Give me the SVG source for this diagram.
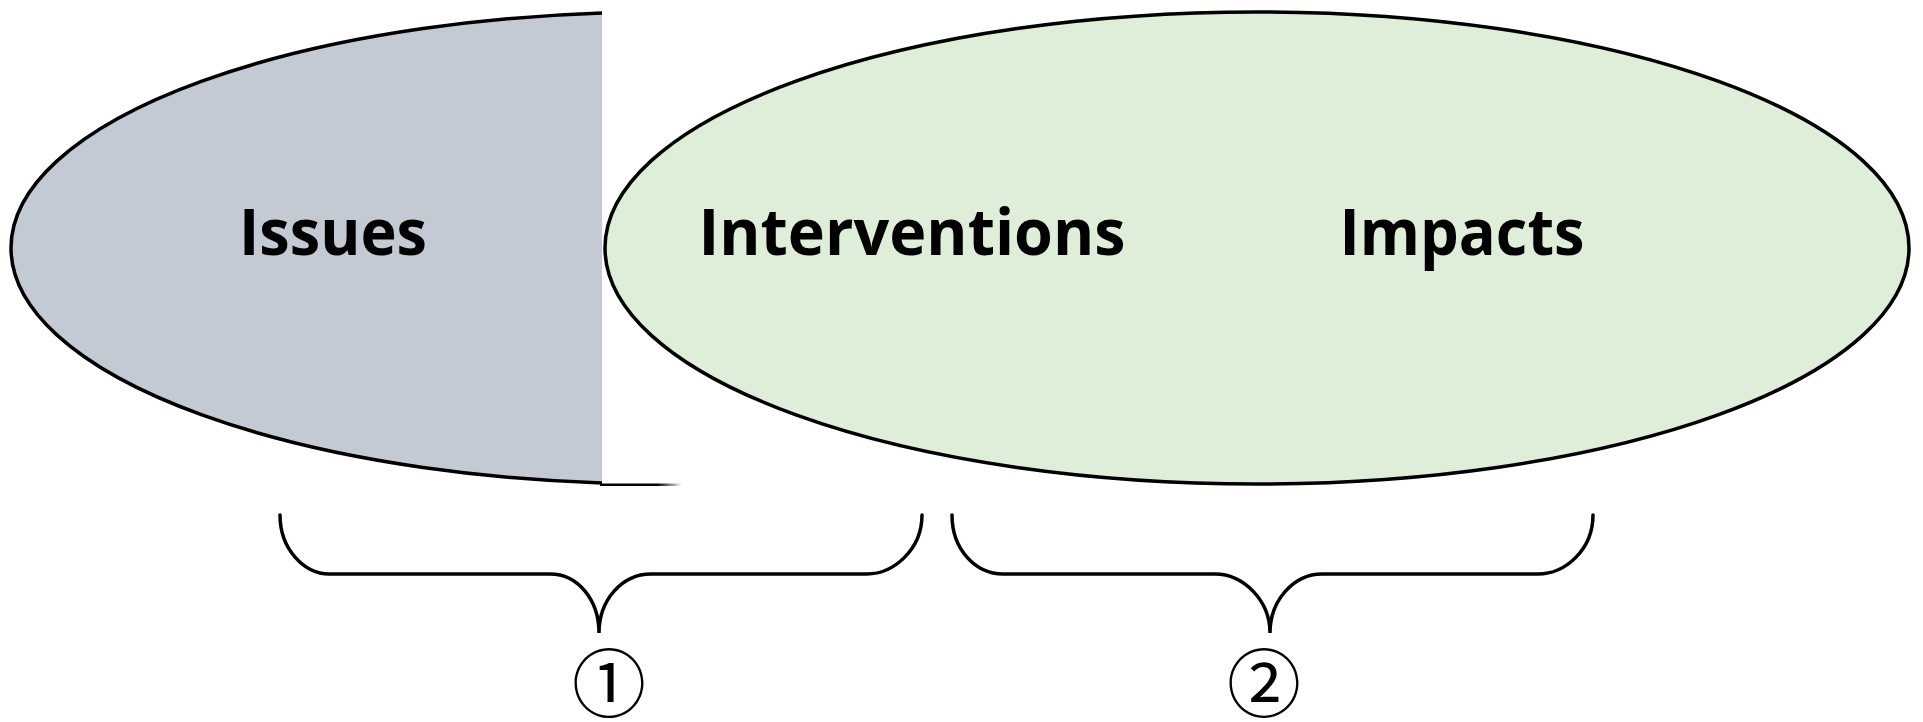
<svg xmlns="http://www.w3.org/2000/svg" width="1923" height="722" viewBox="0 0 1923 722">
<style>
.shape{stroke:#000;stroke-width:3.5}
.lbl{font-family:"Open Sans","Liberation Sans",sans-serif;font-weight:700;font-size:64px;fill:#000;text-anchor:middle}
.brace{fill:none;stroke:#000;stroke-width:3.5;stroke-linecap:round}
.num{font-family:"Noto Sans CJK JP","DejaVu Sans",sans-serif;font-size:74px;fill:#000;text-anchor:middle}
</style>
<defs>
<clipPath id="cl"><rect x="0" y="0" width="602" height="722"/></clipPath>
<linearGradient id="fade" x1="0" x2="1" y1="0" y2="0"><stop offset="0" stop-color="#000"/><stop offset="0.7" stop-color="#000"/><stop offset="1" stop-color="#000" stop-opacity="0"/></linearGradient>
</defs>
<rect width="1923" height="722" fill="#fff"/>
<g id="issues">
<ellipse class="shape" cx="663" cy="248" rx="652" ry="236" fill="#C3CAD3" clip-path="url(#cl)"/>
<rect x="600" y="483.5" width="82" height="2.5" fill="url(#fade)"/>
<text class="lbl" x="333" y="255" textLength="188" lengthAdjust="spacingAndGlyphs">Issues</text>
</g>
<g id="interventions-impacts">
<ellipse class="shape" cx="1257" cy="248" rx="652" ry="236" fill="#DFEED8"/>
<text class="lbl" x="912" y="255" textLength="427" lengthAdjust="spacingAndGlyphs">Interventions</text>
<text class="lbl" x="1462" y="255" textLength="245" lengthAdjust="spacingAndGlyphs">Impacts</text>
</g>
<g id="connectors">
<path class="brace" d="M280,515 C280,550 305,574 329,574 L550,574 C578,574 599,600 599,633 C599,600 622,574 651,574 L867,574 C893,574 922,550 922,515"/>
<path class="brace" d="M952,515 C952,550 976,574 1003,574 L1215,574 C1243,574 1270,600 1270,633 C1270,600 1294,574 1322,574 L1538,574 C1565,574 1593,550 1593,515"/>
</g>
<g id="label-1"><text class="num" x="609" y="711">①</text></g>
<g id="label-2"><text class="num" x="1264" y="711">②</text></g>
</svg>
